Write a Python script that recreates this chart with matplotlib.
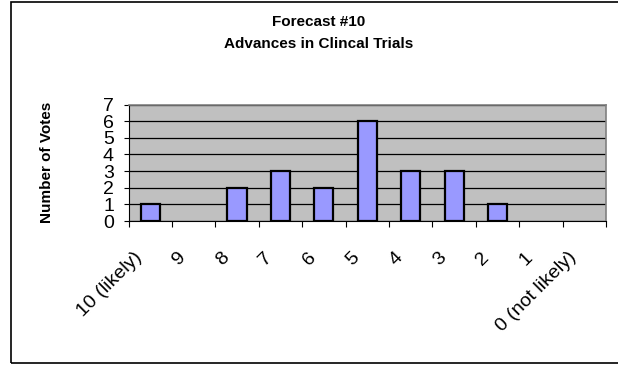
import matplotlib
matplotlib.use("Agg")
import matplotlib.pyplot as plt
from matplotlib.patches import Rectangle
import numpy as np

categories = ["10 (likely)", "9", "8", "7", "6", "5", "4", "3", "2", "1", "0 (not likely)"]
votes = [1, 0, 2, 3, 2, 6, 3, 3, 1, 0, 0]
y_ticks = [0, 1, 2, 3, 4, 5, 6, 7]

plt.rcParams["font.family"] = ["Liberation Sans", "DejaVu Sans"]

W, H = 618, 366
fig = plt.figure(figsize=(W / 100, H / 100), dpi=100)
fig.patch.set_facecolor("white")

# outer chart border (runs off the right edge)
fig.patches.append(Rectangle((10.7 / W, 1 - 363 / H), 620 / W, 360.7 / H,
                             transform=fig.transFigure, fill=False,
                             edgecolor="black", linewidth=1.2, clip_on=False))

left, right, top, bottom = 128.5, 606, 104.5, 221
ax = fig.add_axes([left / W, 1 - bottom / H, (right - left) / W, (bottom - top) / H])
ax.set_facecolor("#C0C0C0")

x = np.arange(len(categories))
edges = ["black" if v > 0 else "none" for v in votes]
ax.bar(x, votes, width=0.44, color="#9999FF", edgecolor=edges, linewidth=1.6, zorder=3)

ax.set_xlim(-0.5, len(categories) - 0.5)
ax.set_ylim(0, 7)
ax.set_yticks(y_ticks)
ax.set_yticklabels([str(v) for v in y_ticks], fontsize=14)
ax.yaxis.grid(True, color="black", linewidth=0.9, zorder=1)
ax.set_axisbelow(True)

# category ticks sit on the boundaries between groups
ax.set_xticks(np.arange(len(categories) + 1) - 0.5)
ax.set_xticklabels([])
ax.tick_params(axis="x", direction="out", length=4.5, width=0.8, color="black")
ax.tick_params(axis="y", direction="out", length=3.5, width=0.8, color="black", pad=7)

for xi, lab in zip(x, categories):
    ax.annotate(lab, xy=(xi, 0), xycoords="data", xytext=(-12, -20),
                textcoords="offset points", rotation=45, rotation_mode="anchor",
                ha="right", va="top", fontsize=14)

for side in ["top", "right"]:
    ax.spines[side].set_color("#808080")
    ax.spines[side].set_linewidth(1.2)
ax.spines["left"].set_color("black")
ax.spines["bottom"].set_color("black")

ax.set_ylabel("Number of Votes", fontsize=11, fontweight="bold", labelpad=35)

title_x = 318.5 / W
fig.text(title_x, 1 - 22.5 / H, "Forecast #10", ha="center", va="center",
         fontsize=11, fontweight="bold")
fig.text(title_x, 1 - 44.5 / H, "Advances in Clincal Trials", ha="center", va="center",
         fontsize=11, fontweight="bold")

fig.savefig("out.png", dpi=100)
